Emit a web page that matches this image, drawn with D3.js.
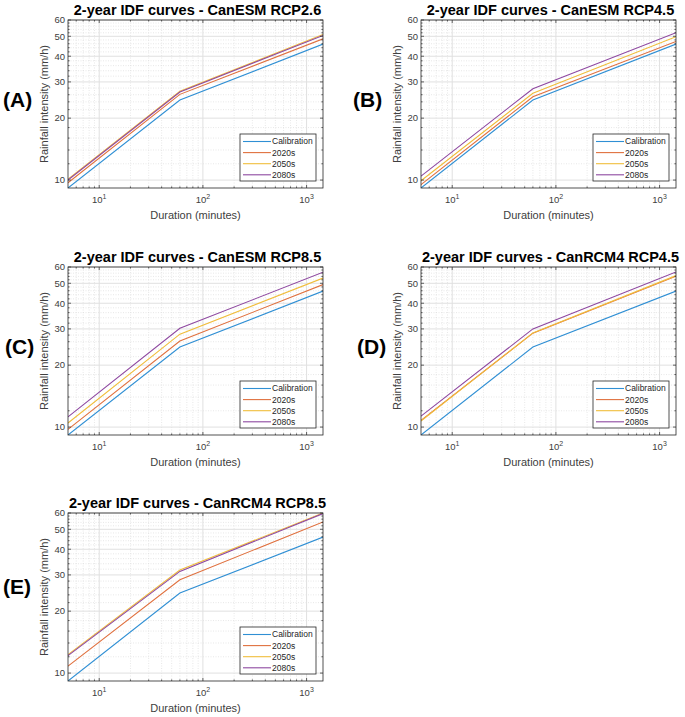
<!DOCTYPE html>
<html><head><meta charset="utf-8">
<script src="https://cdn.jsdelivr.net/npm/d3@7"></script>
<style>
body{margin:0;background:#fff}
svg{display:block}
text{font-family:"Liberation Sans",Arial,Helvetica,sans-serif}
</style>
</head><body>
<svg id="chart" width="685" height="717"></svg>
<script>
// ---------- data ----------
const durations = [5, 60, 1440];
const calibration = [9.15, 24.5, 45.8];
const seriesNames = ["Calibration", "2020s", "2050s", "2080s"];
const seriesColors = ["#2f8fd4", "#e0703e", "#f0bd3a", "#8e48a0"];
const panelLetters = ["(A)", "(B)", "(C)", "(D)", "(E)"];
const panelTitles = [
  "2-year IDF curves - CanESM RCP2.6",
  "2-year IDF curves - CanESM RCP4.5",
  "2-year IDF curves - CanESM RCP8.5",
  "2-year IDF curves - CanRCM4 RCP4.5",
  "2-year IDF curves - CanRCM4 RCP8.5"
];
const proj2020s = [[9.7, 26.1, 48.6], [9.5, 25.4, 47.2], [9.74, 26.2, 49.3], [10.78, 28.6, 54.1], [10.8, 28.4, 54.3]];
const proj2050s = [[10.1, 27.0, 51.0], [9.93, 26.4, 49.8], [10.46, 28.3, 53.0], [10.7, 28.7, 54.5], [12.3, 31.7, 60.0]];
const proj2080s = [[10.0, 26.8, 50.5], [10.45, 27.8, 52.0], [11.2, 30.2, 56.6], [11.3, 30.0, 56.8], [12.15, 31.2, 59.6]];
const yTicks = [10, 20, 30, 40, 50, 60];
const xTicks = [10, 100, 1000];
const xDomain = [5, 1440];
const yDomain = [9.15, 60];
const xLabel = "Duration (minutes)";
const yLabel = "Rainfall intensity (mm/h)";

// ---------- layout ----------
const boxW = 255, boxH = 168;
const layout = [
  {x: 68, y: 20, lx: 3, ly: 100},
  {x: 421, y: 20, lx: 353, ly: 100},
  {x: 68, y: 267, lx: 5, ly: 347},
  {x: 421, y: 267, lx: 357, ly: 347},
  {x: 68, y: 513, lx: 3, ly: 587}
];
const axisColor = "#262626";
const textColor = "#404040";

const svg = d3.select("#chart");

const xMinor = [];
[1, 10, 100, 1000].forEach(d => { for (let m = 2; m <= 9; m++) { const v = d * m; if (v > xDomain[0] && v < xDomain[1] && !xTicks.includes(v)) xMinor.push(v); } });
const yMinor = d3.range(12, 60, 2).filter(v => v % 10 !== 0);

panelTitles.forEach((title, i) => {
  const L = layout[i];
  const g = svg.append("g").attr("transform", `translate(${L.x},${L.y})`);
  const x = d3.scaleLog().domain(xDomain).range([0, boxW]);
  const y = d3.scaleLog().domain(yDomain).range([boxH, 0]);

  g.append("rect").attr("width", boxW).attr("height", boxH).attr("fill", "#fff");

  // minor grid
  g.selectAll(".mgx").data(xMinor).join("line")
    .attr("x1", d => x(d)).attr("x2", d => x(d)).attr("y1", 0).attr("y2", boxH)
    .attr("stroke", "#d8d8d8").attr("stroke-width", 0.6).attr("stroke-dasharray", "1,1.5");
  g.selectAll(".mgy").data(yMinor).join("line")
    .attr("y1", d => y(d)).attr("y2", d => y(d)).attr("x1", 0).attr("x2", boxW)
    .attr("stroke", "#d8d8d8").attr("stroke-width", 0.6).attr("stroke-dasharray", "1,1.5");
  // major grid
  g.selectAll(".gx").data(xTicks).join("line")
    .attr("x1", d => x(d)).attr("x2", d => x(d)).attr("y1", 0).attr("y2", boxH)
    .attr("stroke", "#e0e0e0").attr("stroke-width", 1);
  g.selectAll(".gy").data(yTicks).join("line")
    .attr("y1", d => y(d)).attr("y2", d => y(d)).attr("x1", 0).attr("x2", boxW)
    .attr("stroke", "#e0e0e0").attr("stroke-width", 1);

  // lines
  const clipId = "clip" + i;
  g.append("clipPath").attr("id", clipId).append("rect").attr("width", boxW).attr("height", boxH);
  const allSeries = [calibration, proj2020s[i], proj2050s[i], proj2080s[i]];
  const line = d3.line().x((d, k) => x(durations[k])).y(d => y(d));
  allSeries.forEach((s, k) => {
    g.append("path").attr("d", line(s)).attr("fill", "none")
      .attr("stroke", seriesColors[k]).attr("stroke-width", 1.1)
      .attr("clip-path", `url(#${clipId})`);
  });

  // ticks (inside, on all four sides)
  const tk = g.append("g").attr("stroke", axisColor).attr("stroke-width", 0.7);
  xTicks.forEach(v => {
    tk.append("line").attr("x1", x(v)).attr("x2", x(v)).attr("y1", boxH).attr("y2", boxH - 3);
    tk.append("line").attr("x1", x(v)).attr("x2", x(v)).attr("y1", 0).attr("y2", 3);
  });
  xMinor.forEach(v => {
    tk.append("line").attr("x1", x(v)).attr("x2", x(v)).attr("y1", boxH).attr("y2", boxH - 1.6);
    tk.append("line").attr("x1", x(v)).attr("x2", x(v)).attr("y1", 0).attr("y2", 1.6);
  });
  yTicks.forEach(v => {
    tk.append("line").attr("y1", y(v)).attr("y2", y(v)).attr("x1", 0).attr("x2", 3);
    tk.append("line").attr("y1", y(v)).attr("y2", y(v)).attr("x1", boxW).attr("x2", boxW - 3);
  });
  yMinor.forEach(v => {
    tk.append("line").attr("y1", y(v)).attr("y2", y(v)).attr("x1", 0).attr("x2", 1.6);
    tk.append("line").attr("y1", y(v)).attr("y2", y(v)).attr("x1", boxW).attr("x2", boxW - 1.6);
  });

  // box
  g.append("rect").attr("width", boxW).attr("height", boxH).attr("fill", "none")
    .attr("stroke", axisColor).attr("stroke-width", 0.8);

  // y tick labels
  g.selectAll(".yl").data(yTicks).join("text")
    .attr("x", -3).attr("y", d => y(d)).attr("dy", "0.35em")
    .attr("text-anchor", "end").attr("font-size", 9.5).attr("fill", textColor)
    .text(d => d);
  // x tick labels with superscript
  xTicks.forEach(v => {
    const t = g.append("text").attr("x", x(v)).attr("y", boxH + 15)
      .attr("text-anchor", "middle").attr("font-size", 9.5).attr("fill", textColor);
    t.append("tspan").text("10");
    t.append("tspan").attr("dy", -4.5).attr("font-size", 7).text(Math.round(Math.log10(v)));
  });

  // axis labels
  g.append("text").attr("x", boxW / 2).attr("y", boxH + 31)
    .attr("text-anchor", "middle").attr("font-size", 11).attr("fill", textColor).text(xLabel);
  g.append("text").attr("transform", `translate(-20,${boxH / 2}) rotate(-90)`)
    .attr("text-anchor", "middle").attr("font-size", 11).attr("fill", textColor).text(yLabel);

  // title
  g.append("text").attr("x", boxW / 2 + 2).attr("y", -5)
    .attr("text-anchor", "middle").attr("font-size", 14.5).attr("font-weight", "bold")
    .attr("fill", "#000").text(title);

  // legend
  const lgW = 76, lgH = 47;
  const lg = g.append("g").attr("transform", `translate(${boxW - 7 - lgW},${boxH - 7 - lgH})`);
  lg.append("rect").attr("width", lgW).attr("height", lgH).attr("fill", "#fff")
    .attr("stroke", axisColor).attr("stroke-width", 0.8);
  seriesNames.forEach((n, k) => {
    const yy = 7.5 + k * 11.1;
    lg.append("line").attr("x1", 3).attr("x2", 31).attr("y1", yy).attr("y2", yy)
      .attr("stroke", seriesColors[k]).attr("stroke-width", 1.1);
    lg.append("text").attr("x", 32).attr("y", yy).attr("dy", "0.35em")
      .attr("font-size", 8.5).attr("fill", "#262626").text(n);
  });

  // panel letter
  svg.append("text").attr("x", L.lx).attr("y", L.ly).attr("dy", "0.35em")
    .attr("font-size", 21).attr("font-weight", "bold").attr("fill", "#000")
    .text(panelLetters[i]);
});
</script>
</body></html>
